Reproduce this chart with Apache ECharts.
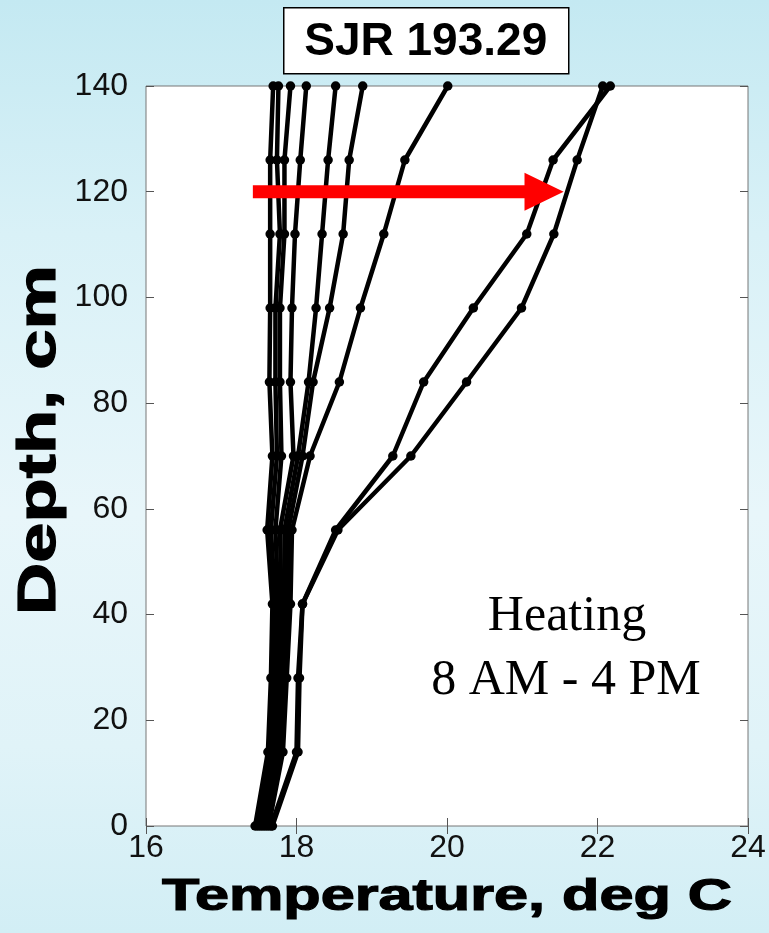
<!DOCTYPE html>
<html>
<head>
<meta charset="utf-8">
<title>SJR 193.29</title>
<script src="https://cdn.jsdelivr.net/npm/echarts@6/dist/echarts.min.js"></script>
<style>
  html, body {
    margin: 0;
    padding: 0;
    width: 769px;
    height: 933px;
    overflow: hidden;
    background: linear-gradient(180deg, #c4e9f2 0%, #d9f1f7 25%, #e8f6fa 55%, #e0f3f8 80%, #d2eef5 100%);
  }
  #chart { width: 769px; height: 933px; }
</style>
</head>
<body>
<div id="chart"></div>
<script>
// Depth below the streambed (cm) at which each thermistor sits
const depths = [0, 14, 28, 42, 56, 70, 84, 98, 112, 126, 140];

// Hourly temperature profiles (deg C), one value per depth above
const profile8am  = [17.45, 17.62, 17.66, 17.68, 17.61, 17.68, 17.64, 17.65, 17.65, 17.65, 17.69];
const profile9am  = [17.48, 17.65, 17.69, 17.72, 17.66, 17.74, 17.72, 17.72, 17.78, 17.74, 17.76];
const profile10am = [17.51, 17.68, 17.72, 17.76, 17.72, 17.80, 17.78, 17.78, 17.84, 17.84, 17.92];
const profile11am = [17.54, 17.71, 17.76, 17.80, 17.78, 17.96, 17.92, 17.94, 17.98, 18.05, 18.13];
const profile12pm = [17.57, 17.74, 17.80, 17.84, 17.84, 18.02, 18.16, 18.26, 18.34, 18.42, 18.52];
const profile1pm  = [17.60, 17.78, 17.83, 17.88, 17.89, 18.08, 18.22, 18.44, 18.62, 18.70, 18.88];
const profile2pm  = [17.63, 17.82, 17.87, 17.92, 17.94, 18.18, 18.57, 18.85, 19.16, 19.44, 20.01];
const profile3pm  = [17.66, 18.00, 18.02, 18.08, 18.52, 19.28, 19.69, 20.35, 21.06, 21.41, 22.17];
const profile4pm  = [17.68, 18.02, 18.04, 18.08, 18.55, 19.52, 20.26, 20.99, 21.42, 21.73, 22.07];

const profileNames = ['8 AM', '9 AM', '10 AM', '11 AM', '12 PM', '1 PM', '2 PM', '3 PM', '4 PM'];
const profiles = [profile8am, profile9am, profile10am, profile11am, profile12pm,
                  profile1pm, profile2pm, profile3pm, profile4pm];

// Axis ticks
const tempTicks = [16, 18, 20, 22, 24];
const depthTicks = [0, 20, 40, 60, 80, 100, 120, 140];

// Arrow marking the 120 cm level: [shaft start, head base, tip, depth]
const arrowSpec = [[17.42, 21.03, 21.55, 120]];

const labelFont = { fontFamily: "'Liberation Sans', Arial, sans-serif", fontSize: 32, color: '#111' };
const tickStyle = { show: true, inside: true, length: 8, lineStyle: { color: '#555', width: 1 } };

const chart = echarts.init(document.getElementById('chart'), null, { renderer: 'canvas' });

const lineSeries = profiles.map((vals, i) => ({
  name: profileNames[i],
  type: 'line',
  data: vals.map((t, k) => [t, depths[k]]),
  xAxisIndex: 0,
  yAxisIndex: 0,
  symbol: 'circle',
  symbolSize: 9.5,
  showSymbol: true,
  clip: false,
  lineStyle: { color: '#000', width: 4.5 },
  itemStyle: { color: '#000' },
  emphasis: { disabled: true },
  z: 3
}));

const arrowSeries = {
  type: 'custom',
  xAxisIndex: 0,
  yAxisIndex: 0,
  data: arrowSpec,
  encode: { x: [0, 1, 2], y: 3 },
  z: 10,
  renderItem: function (params, api) {
    const s = api.coord([api.value(0), api.value(3)]);
    const b = api.coord([api.value(1), api.value(3)]);
    const t = api.coord([api.value(2), api.value(3)]);
    const y = s[1];
    const hw = 6.5, hh = 19;
    return {
      type: 'polygon',
      shape: {
        points: [
          [s[0], y - hw], [b[0], y - hw], [b[0], y - hh], [t[0], y],
          [b[0], y + hh], [b[0], y + hw], [s[0], y + hw]
        ]
      },
      style: { fill: '#ff0000' }
    };
  }
};

chart.setOption({
  backgroundColor: 'transparent',
  animation: false,
  grid: {
    left: 146, right: 21, top: 86, bottom: 107,
    show: true, backgroundColor: '#ffffff', borderColor: '#777', borderWidth: 1
  },
  xAxis: [
    {
      type: 'value', min: tempTicks[0], max: tempTicks[tempTicks.length - 1], interval: 2,
      position: 'bottom',
      axisLine: { show: false },
      axisTick: tickStyle,
      splitLine: { show: false },
      axisLabel: Object.assign({ margin: 6 }, labelFont)
    },
    {
      type: 'value', min: tempTicks[0], max: tempTicks[tempTicks.length - 1], interval: 2,
      position: 'top',
      axisLine: { show: false },
      axisTick: tickStyle,
      splitLine: { show: false },
      axisLabel: { show: false }
    }
  ],
  yAxis: [
    {
      type: 'value', min: depthTicks[0], max: depthTicks[depthTicks.length - 1], interval: 20,
      position: 'left',
      axisLine: { show: false },
      axisTick: tickStyle,
      splitLine: { show: false },
      axisLabel: Object.assign({ margin: 18 }, labelFont)
    },
    {
      type: 'value', min: depthTicks[0], max: depthTicks[depthTicks.length - 1], interval: 20,
      position: 'right',
      axisLine: { show: false },
      axisTick: tickStyle,
      splitLine: { show: false },
      axisLabel: { show: false }
    }
  ],
  series: lineSeries.concat([arrowSeries]),
  graphic: [
    {
      type: 'group',
      left: 283, top: 7,
      children: [
        { type: 'rect', shape: { x: 0, y: 0, width: 285, height: 66 },
          style: { fill: '#fff', stroke: '#000', lineWidth: 1.5 } },
        { type: 'text', x: 142, y: 35,
          style: { text: 'SJR 193.29', font: "bold 46px 'Liberation Sans', Arial, sans-serif",
                   fill: '#000', textAlign: 'center', textVerticalAlign: 'middle' } }
      ]
    },
    {
      type: 'text', x: 567, y: 617, z: 20,
      style: { text: 'Heating', font: "50px 'Liberation Serif', 'Times New Roman', serif",
               fill: '#000', textAlign: 'center', textVerticalAlign: 'middle' }
    },
    {
      type: 'text', x: 566, y: 681, z: 20,
      style: { text: '8 AM - 4 PM', font: "50px 'Liberation Serif', 'Times New Roman', serif",
               fill: '#000', textAlign: 'center', textVerticalAlign: 'middle' }
    },
    {
      type: 'text', x: 447, y: 898, scaleX: 1.39,
      style: { text: 'Temperature, deg C', font: "bold 44px 'Liberation Sans', Arial, sans-serif",
               fill: '#000', stroke: '#000', lineWidth: 1.2,
               textAlign: 'center', textVerticalAlign: 'middle' }
    },
    {
      type: 'text', x: 40, y: 440, rotation: Math.PI / 2, scaleX: 1.34,
      style: { text: 'Depth, cm', font: "bold 54px 'Liberation Sans', Arial, sans-serif",
               fill: '#000', stroke: '#000', lineWidth: 1.2,
               textAlign: 'center', textVerticalAlign: 'middle' }
    }
  ]
});
</script>
</body>
</html>
